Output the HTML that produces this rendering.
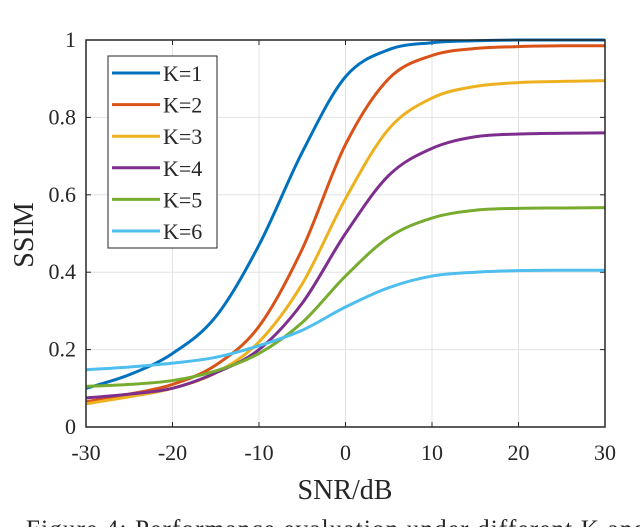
<!DOCTYPE html>
<html><head><meta charset="utf-8"><style>
body{margin:0;background:#fff;width:640px;height:527px;overflow:hidden}
text{font-family:"Liberation Serif",serif;fill:#262626}
</style></head><body>
<svg id="chart" width="640" height="527"></svg>
<script>
const xs=[-30,-25,-20,-15,-10,-5,0,5,10,15,20,25,30];
const k1=[0.10,0.135,0.19,0.285,0.47,0.71,0.905,0.975,0.993,0.998,1.0,1.0,1.0];
const k2=[0.065,0.085,0.11,0.16,0.26,0.46,0.73,0.90,0.96,0.978,0.983,0.985,0.985];
const k3=[0.06,0.078,0.10,0.14,0.22,0.37,0.59,0.77,0.85,0.88,0.89,0.893,0.895];
const k4=[0.075,0.085,0.10,0.14,0.20,0.32,0.50,0.65,0.72,0.75,0.757,0.759,0.76];
const k5=[0.105,0.11,0.12,0.145,0.19,0.27,0.39,0.49,0.54,0.56,0.565,0.566,0.567];
const k6=[0.148,0.155,0.165,0.18,0.21,0.25,0.31,0.36,0.39,0.40,0.404,0.405,0.405];
const seriesNames=["K=1","K=2","K=3","K=4","K=5","K=6"];
const colors=["#0072BD","#D95319","#EDB120","#7E2F8E","#77AC30","#4DBEEE"];
const xTicks=[-30,-20,-10,0,10,20,30];
const yTicks=[0,0.2,0.4,0.6,0.8,1];
const yTickLabels=["0","0.2","0.4","0.6","0.8","1"];
const L=86,R=605,T=40,B=427;
const X=v=>L+(v+30)/60*(R-L), Y=v=>B-v*(B-T);
const svg=document.getElementById('chart'),NS="http://www.w3.org/2000/svg";
function mk(t,a,p){const e=document.createElementNS(NS,t);for(const k in a)e.setAttribute(k,a[k]);(p||svg).appendChild(e);return e;}
xTicks.forEach(v=>{const g=mk('line',{x1:X(v),x2:X(v),y1:T,y2:B,stroke:'#e3e3e3','stroke-width':1});

const t=mk('text',{x:X(v),y:B+33,'text-anchor':'middle','font-size':22});t.textContent=v;

mk('line',{x1:X(v),x2:X(v),y1:B,y2:B-5,stroke:'#262626'});mk('line',{x1:X(v),x2:X(v),y1:T,y2:T+5,stroke:'#262626'});});
yTicks.forEach((v,i)=>{const g=mk('line',{x1:L,x2:R,y1:Y(v),y2:Y(v),stroke:'#e3e3e3','stroke-width':1});

const t=mk('text',{x:L-10,y:Y(v)+7,'text-anchor':'end','font-size':22});t.textContent=yTickLabels[i];

mk('line',{x1:L,x2:L+5,y1:Y(v),y2:Y(v),stroke:'#262626'});mk('line',{x1:R,x2:R-5,y1:Y(v),y2:Y(v),stroke:'#262626'});});
const all=[k1,k2,k3,k4,k5,k6];
function path(ys){const p=xs.map((x,i)=>[X(x),Y(ys[i])]);let d=`M${p[0][0]},${p[0][1]}`;
for(let i=0;i<p.length-1;i++){const p0=p[Math.max(0,i-1)],p1=p[i],p2=p[i+1],p3=p[Math.min(p.length-1,i+2)];
d+=` C${p1[0]+(p2[0]-p0[0])/6},${p1[1]+(p2[1]-p0[1])/6} ${p2[0]-(p3[0]-p1[0])/6},${p2[1]-(p3[1]-p1[1])/6} ${p2[0]},${p2[1]}`;}return d;}
all.forEach((ys,i)=>{const e=mk('path',{d:path(ys),fill:'none',stroke:colors[i],'stroke-width':3});
});
const ax=mk('rect',{x:L,y:T,width:R-L,height:B-T,fill:'none',stroke:'#262626','stroke-width':1.5});

const lg=mk('g',{});
mk('rect',{x:108,y:56,width:109,height:192,fill:'#fff',stroke:'#262626','stroke-width':1},lg);
seriesNames.forEach((n,i)=>{const y=73+i*31.6;
const e=mk('g',{},lg);
mk('line',{x1:112,x2:160,y1:y,y2:y,stroke:colors[i],'stroke-width':3},e);
const t=mk('text',{x:163,y:y+8,'font-size':22},e);t.textContent=n;});
const xl=mk('text',{x:345,y:499,'text-anchor':'middle','font-size':28});xl.textContent='SNR/dB';

const yl=mk('text',{x:0,y:0,'text-anchor':'middle','font-size':28,transform:'translate(33,235) rotate(-90)'});yl.textContent='SSIM';

const cp=mk('text',{x:26,y:537,'font-size':25,textLength:620});cp.textContent='Figure 4: Performance evaluation under different K and';

</script>
</body></html>
